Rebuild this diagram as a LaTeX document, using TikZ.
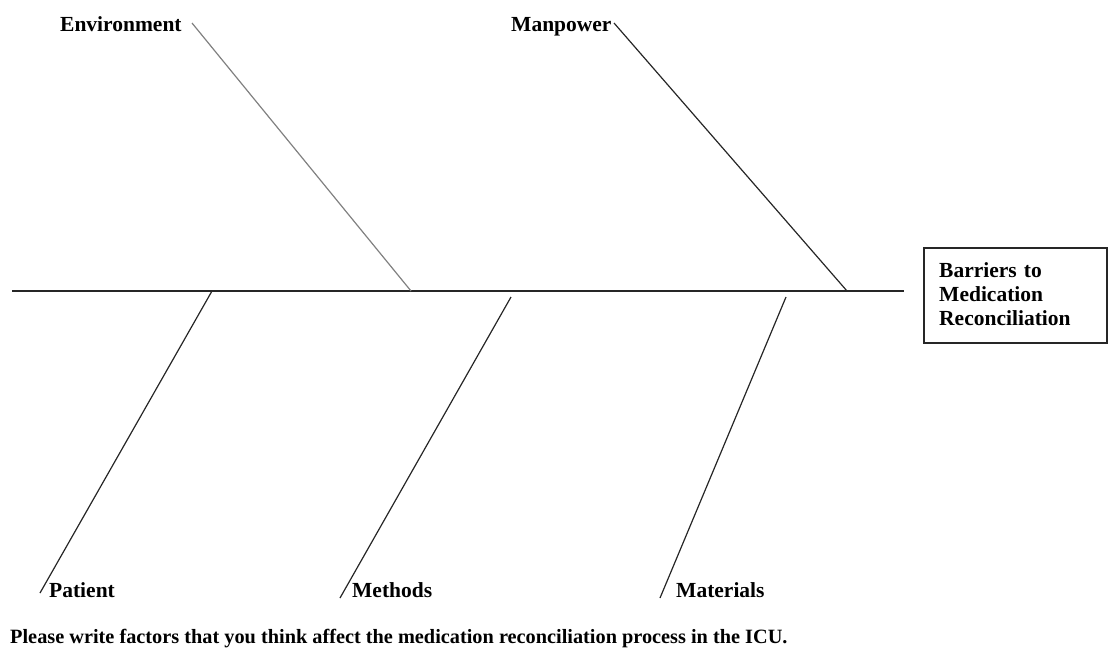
\documentclass[tikz,border=0pt]{standalone}
\usepackage{fontspec}
\setmainfont{Liberation Serif}
\begin{document}
\begin{tikzpicture}[x=1pt,y=-1pt,
  lbl/.style={font=\bfseries\fontsize{21.5}{24}\selectfont, inner sep=0pt, anchor=base west},
  bone/.style={line width=1.2pt, draw=black!85},
  grayline/.style={line width=1.2pt, draw=black!50}]
\useasboundingbox (0,0) rectangle (1112,653);
% labels
\node[lbl] (env) at (60,31) {Environment};
\node[lbl] (man) at (511,31) {Manpower};
\node[lbl] (pat) at (49,597) {Patient};
\node[lbl] (met) at (352,597) {Methods};
\node[lbl] (mat) at (676,597) {Materials};
\node[lbl, font=\bfseries\fontsize{20.3}{24}\selectfont] (note) at (10,643) {Please write factors that you think affect the medication reconciliation process in the ICU.};
% effect box
\draw[line width=1.2pt, draw=black!85] (924,248) rectangle (1107,343);
\node[lbl, align=left, anchor=north west, text width=165pt] (effect) at (939,262)
  {Barriers to\\Medication\\Reconciliation};
% spine coordinates
\coordinate (s0) at (12,291);
\coordinate (s1) at (904,291);
\coordinate (e0) at (192,23);  \coordinate (e1) at (411,291);
\coordinate (m0) at (614,23);  \coordinate (m1) at (847,291);
\coordinate (p0) at (212,291); \coordinate (p1) at (40,593);
\coordinate (t0) at (511,297); \coordinate (t1) at (340,598);
\coordinate (a0) at (786,297); \coordinate (a1) at (660,598);
\draw[bone] (s0) -- (s1);
\draw[grayline] (e0) -- (e1);
\draw[bone] (m0) -- (m1);
\draw[bone] (p0) -- (p1);
\draw[bone] (t0) -- (t1);
\draw[bone] (a0) -- (a1);
\end{tikzpicture}
\end{document}
